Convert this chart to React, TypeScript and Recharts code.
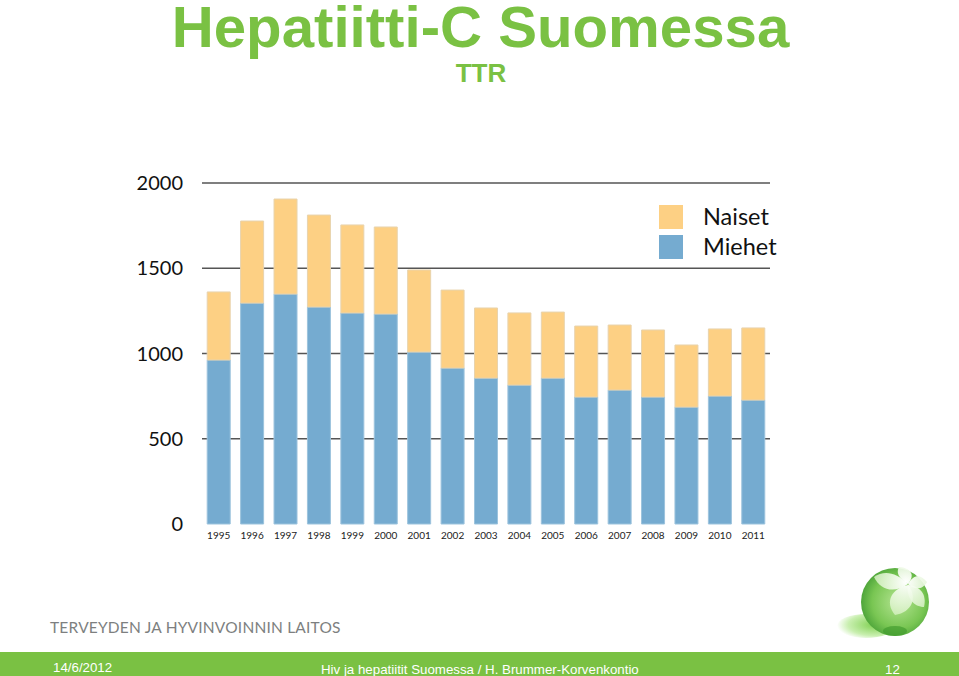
import { BarChart, Bar, XAxis, YAxis, CartesianGrid, Legend } from "recharts";

const years = ["1995", "1996", "1997", "1998", "1999", "2000", "2001", "2002", "2003", "2004", "2005", "2006", "2007", "2008", "2009", "2010", "2011"];
const miehet = [962, 1296, 1349, 1273, 1238, 1232, 1009, 915, 856, 815, 856, 745, 786, 745, 686, 751, 727];
const naiset = [399, 481, 557, 539, 516, 510, 481, 457, 411, 423, 387, 416, 381, 393, 364, 393, 423];
const yTicks = [0, 500, 1000, 1500, 2000];
const gridLevels = [500, 1000, 1500, 2000];

const data = years.map((year, i) => ({ year, miehet: miehet[i], naiset: naiset[i] }));

const GREEN = "#7ac143";
const CHART_FONT = "Lato, sans-serif";

function ChartLegend() {
  const items = [
    { label: "Naiset", color: "#fdd084" },
    { label: "Miehet", color: "#75abd0" },
  ];
  return (
    <div style={{ fontFamily: CHART_FONT }}>
      {items.map((item) => (
        <div key={item.label} style={{ display: "flex", alignItems: "center", height: 30 }}>
          <div style={{ width: 24, height: 24, background: item.color, marginRight: 20 }} />
          <span style={{ fontSize: 23.5, color: "#111", position: "relative", top: -1 }}>{item.label}</span>
        </div>
      ))}
    </div>
  );
}

function Ball() {
  return (
    <svg width={110} height={90} style={{ position: "absolute", left: 830, top: 560 }}>
      <defs>
        <radialGradient id="ball" cx="0.55" cy="0.5" r="0.55">
          <stop offset="0" stopColor="#b4e492" />
          <stop offset="0.7" stopColor="#79c653" />
          <stop offset="1" stopColor="#4ea53a" />
        </radialGradient>
        <radialGradient id="shadow" cx="0.65" cy="0.45" r="0.65">
          <stop offset="0" stopColor="#7fd050" />
          <stop offset="0.7" stopColor="#c9efb0" />
          <stop offset="1" stopColor="#ffffff" />
        </radialGradient>
        <radialGradient id="petal" gradientUnits="userSpaceOnUse" cx={76} cy={22} r={36}>
          <stop offset="0" stopColor="#ffffff" />
          <stop offset="1" stopColor="#d5f1c0" stopOpacity={0.8} />
        </radialGradient>
      </defs>
      <ellipse cx={36} cy={66} rx={29} ry={12} fill="url(#shadow)" />
      <circle cx={65} cy={42} r={34} fill="url(#ball)" />
      <ellipse cx={65} cy={71} rx={12} ry={5} fill="#3f9a2c" opacity={0.65} />
      <path d="M78 24 C66 12 54 10 44 17 C50 30 64 34 78 24 Z" fill="url(#petal)" />
      <path d="M78 25 C62 28 54 42 65 55 C82 52 88 38 78 25 Z" fill="url(#petal)" />
      <path d="M78 25 C90 26 97 34 94 47 C84 47 76 38 78 25 Z" fill="url(#petal)" />
      <path d="M78 24 C68 18 66 12 69 7 C80 8 86 14 78 24 Z" fill="url(#petal)" />
      <path d="M78 24 C84 14 90 14 97 22 C93 30 84 30 78 24 Z" fill="url(#petal)" />
    </svg>
  );
}

export default function App() {
  return (
    <div style={{ position: "absolute", left: 0, top: 0, width: 959, height: 676, background: "#fff", overflow: "hidden" }}>
      <div style={{ position: "absolute", left: 0, width: 961, top: -2, textAlign: "center", fontFamily: "Liberation Sans", fontWeight: "bold", fontSize: 58.2, lineHeight: "58px", color: GREEN }}>
        Hepatiitti-C Suomessa
      </div>
      <div style={{ position: "absolute", left: 0, width: 962, top: 58, textAlign: "center", fontFamily: "Liberation Sans", fontWeight: "bold", fontSize: 26, lineHeight: "30px", color: GREEN }}>
        TTR
      </div>

      <div style={{ position: "absolute", left: 0, top: 0 }}>
        <BarChart width={959} height={676} data={data} barCategoryGap={5.2} margin={{ top: 183, right: 189, bottom: 62, left: 142 }}>
          <CartesianGrid vertical={false} horizontalValues={gridLevels} stroke="#555" strokeWidth={1.5} />
          <XAxis
            dataKey="year"
            height={30}
            axisLine={false}
            tickLine={false}
            interval={0}
            tickMargin={2}
            tick={{ fontSize: 10, fill: "#222", fontFamily: CHART_FONT }}
          />
          <YAxis
            width={60}
            domain={[0, 2000]}
            ticks={yTicks}
            axisLine={false}
            tickLine={false}
            tickMargin={13}
            tick={{ fontSize: 20, fill: "#111", fontFamily: CHART_FONT }}
          />
          <Legend
            layout="vertical"
            content={<ChartLegend />}
            wrapperStyle={{ left: 659, top: 202, width: 130, bottom: "auto", right: "auto" }}
          />
          <Bar dataKey="miehet" stackId="a" fill="#75abd0" stroke="#9cc3dd" strokeWidth={1} isAnimationActive={false} />
          <Bar dataKey="naiset" stackId="a" fill="#fdd084" stroke="#e8d3ad" strokeWidth={1} isAnimationActive={false} />
        </BarChart>
      </div>

      <div style={{ position: "absolute", left: 50, top: 617, fontFamily: CHART_FONT, fontSize: 15.5, letterSpacing: 0.2, color: "#7d7f80", lineHeight: "20px", whiteSpace: "nowrap" }}>
        TERVEYDEN JA HYVINVOINNIN LAITOS
      </div>
      <Ball />
      <div style={{ position: "absolute", left: 0, top: 652, width: 959, height: 24, background: GREEN, fontFamily: "Liberation Sans", fontSize: 13.3, color: "#fff" }}>
        <span style={{ position: "absolute", left: 53, top: 8 }}>14/6/2012</span>
        <span style={{ position: "absolute", left: 321, top: 10, whiteSpace: "nowrap" }}>Hiv ja hepatiitit Suomessa / H. Brummer-Korvenkontio</span>
        <span style={{ position: "absolute", left: 885, top: 10 }}>12</span>
      </div>
    </div>
  );
}
